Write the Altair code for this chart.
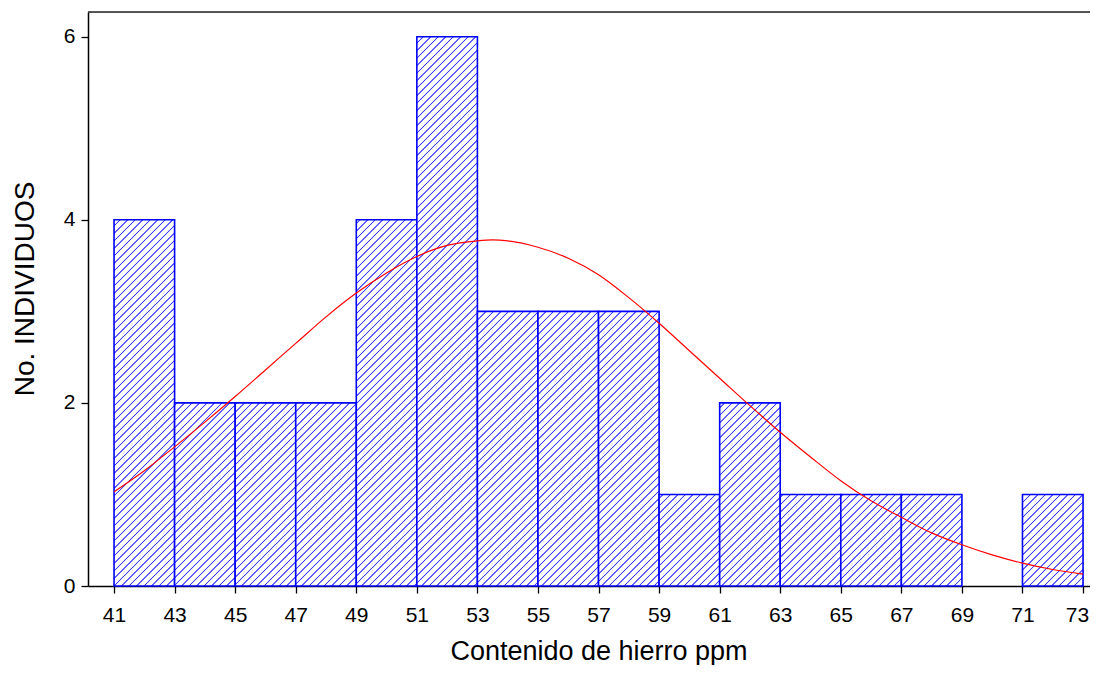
import altair as alt
import pandas as pd

# ---- data ----
bin_start = [41, 43, 45, 47, 49, 51, 53, 55, 57, 59, 61, 63, 65, 67, 69, 71]
bin_end = [43, 45, 47, 49, 51, 53, 55, 57, 59, 61, 63, 65, 67, 69, 71, 73]
counts = [4, 2, 2, 2, 4, 6, 3, 3, 3, 1, 2, 1, 1, 1, 0, 1]

curve_x = [41, 42, 43, 44, 45, 46, 47, 48, 49, 50, 51, 52, 53, 53.5, 54, 55, 56,
           57, 58, 59, 60, 61, 62, 63, 64, 65, 66, 67, 68, 69, 70, 71, 72, 73]
curve_y = [1.03, 1.26, 1.52, 1.79, 2.07, 2.36, 2.65, 2.94, 3.20, 3.42, 3.60, 3.72,
           3.77, 3.78, 3.77, 3.70, 3.58, 3.40, 3.15, 2.87, 2.57, 2.27, 1.97, 1.68,
           1.41, 1.15, 0.93, 0.75, 0.58, 0.45, 0.34, 0.25, 0.18, 0.13]

x_ticks = list(range(41, 74, 2))
y_ticks = [0, 2, 4, 6]

# ---- layout / style ----
W, H = 1002, 574
XMIN, XMAX = 40.14, 73.23
YMIN, YMAX = 0.0, 6.27
PX = W / (XMAX - XMIN)
PY = H / (YMAX - YMIN)
FONT = "Liberation Sans"
BLUE = "#0000ff"
HATCH = "#3a3aff"
PERIOD = 7.5

bars = pd.DataFrame({"bin_start": bin_start, "bin_end": bin_end, "count": counts})
curve = pd.DataFrame({"x": curve_x, "y": curve_y})

x_scale = alt.Scale(domain=[XMIN, XMAX], nice=False, zero=False)
y_scale = alt.Scale(domain=[YMIN, YMAX], nice=False, zero=True)

x_axis = alt.Axis(values=x_ticks, title="Contenido de hierro ppm", grid=False,
                  labelFontSize=21, labelFont=FONT, labelColor="black",
                  labelPadding=11, tickSize=7, tickColor="black", tickWidth=1.3,
                  domainColor="black", domainWidth=1.5, labelFlush=False,
                  labelOverlap=False, titleFont=FONT, titleFontSize=27,
                  titleFontWeight="normal", titleColor="black",
                  titleX=510.5, titleY=73, titleBaseline="alphabetic",
                  titleAlign="center", format="d",
                  labelOffset={"condition": {"test": "datum.value == 73", "value": -6},
                               "value": 0})
y_axis = alt.Axis(values=y_ticks, title="No. INDIVIDUOS", grid=False,
                  labelFontSize=21, labelFont=FONT, labelColor="black",
                  labelPadding=6, tickSize=7, tickColor="black", tickWidth=1.3,
                  domainColor="black", domainWidth=1.5, titleFont=FONT,
                  titleFontSize=28, titleFontWeight="normal", titleColor="black",
                  titleX=-54.5, titleY=276.5, titleBaseline="alphabetic",
                  titleAlign="center", titleAngle=270, format="d")


def hatch(w, h, phase):
    L = w + h
    stops = [{"offset": 0, "color": "white"}]
    c = phase - PERIOD
    while c < L + PERIOD:
        for d, col in [(-1.1, "white"), (-0.35, HATCH), (0.35, HATCH), (1.1, "white")]:
            o = min(max((c + d) / L, 0.0), 1.0)
            stops.append({"offset": round(o, 6), "color": col})
        c += PERIOD
    stops.append({"offset": 1, "color": "white"})
    s = L / (w * w + h * h)
    return {"gradient": "linear", "x1": 0, "y1": 0, "x2": s * w, "y2": s * h,
            "stops": stops}


layers = []
for bs, be, cnt in zip(bin_start, bin_end, counts):
    if cnt <= 0:
        continue
    w = (be - bs) * PX
    h = cnt * PY
    x0 = (bs - XMIN) * PX
    y0 = H - h
    phase = (-(x0 + y0)) % PERIOD
    layer = alt.Chart(bars).transform_filter(
        alt.datum.bin_start == bs
    ).mark_rect(
        fill=hatch(w, h, phase), stroke=BLUE, strokeWidth=1.6
    ).encode(
        x=alt.X("bin_start:Q", scale=x_scale, axis=x_axis),
        x2="bin_end:Q",
        y=alt.Y("count:Q", scale=y_scale, axis=y_axis),
        y2=alt.datum(0),
    )
    layers.append(layer)

line = alt.Chart(curve).mark_line(color="#ff0000", strokeWidth=1.2,
                                  interpolate="monotone").encode(
    x=alt.X("x:Q", scale=x_scale, axis=x_axis),
    y=alt.Y("y:Q", scale=y_scale, axis=y_axis),
)

frame = alt.Chart(pd.DataFrame({"a": [0]})).mark_rule(
    color="#222222", strokeWidth=1.5
).encode(x=alt.value(0), x2=alt.value(W), y=alt.value(0))

chart = alt.layer(*layers, line, frame).properties(
    width=W, height=H,
    autosize=alt.AutoSizeParams(type="none"),
    padding={"left": 80, "top": 4, "right": 0, "bottom": 79},
).configure_view(stroke=None).configure(background="white")

chart.save("out.html", embed_options={"renderer": "svg", "actions": False})
